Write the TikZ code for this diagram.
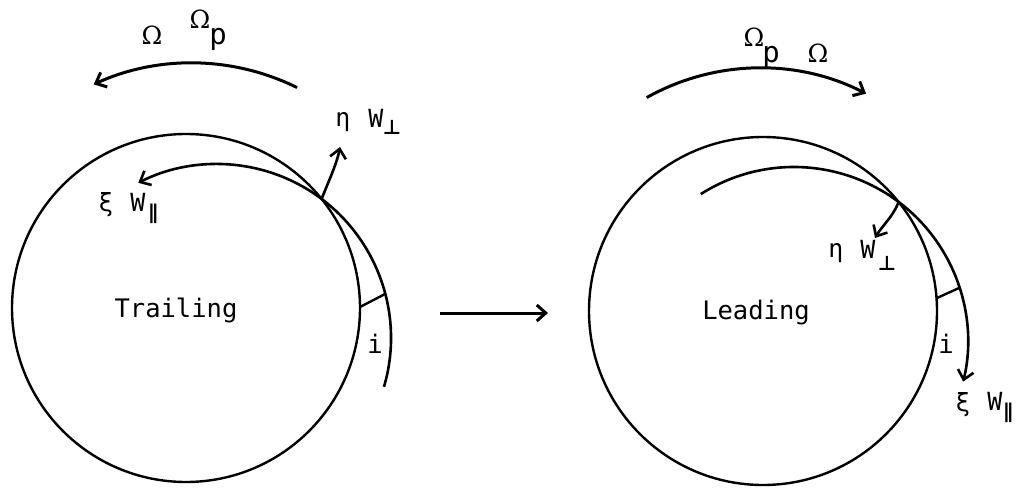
\documentclass[tikz,border=0pt]{standalone}
\usepackage{fontspec}
\newfontfamily\monof{DejaVu Sans Mono}
\newfontfamily\symf{DejaVu Sans}
\newfontfamily\seriff{DejaVu Serif}
\usetikzlibrary{arrows.meta}
\begin{document}
\begin{tikzpicture}[x=1pt,y=-1pt,
 circ/.style={line width=2.4pt},
 arr/.style={line width=2.6pt,-{Straight Barb[length=9pt,width=16pt]}},
 big/.style={font=\monof\fontsize{25.5}{30}\selectfont, inner sep=0pt, anchor=base},
 lbl/.style={font=\monof\fontsize{25}{28}\selectfont, inner sep=0pt, anchor=base},
 om/.style={font=\seriff\fontsize{25}{28}\selectfont, inner sep=0pt, anchor=base},
 pp/.style={font=\monof\fontsize{29}{32}\selectfont, inner sep=0pt, anchor=base},
 sub/.style={font=\symf\bfseries\fontsize{20}{22}\selectfont, inner sep=0pt, anchor=base},
]
\useasboundingbox (0,0) rectangle (1016,487);
% ---------- left (Trailing) ----------
\coordinate (LC1) at (186,308);
\coordinate (LC2) at (217,338);
\coordinate (LO) at (192,300);
\coordinate (LP) at (321.6,198.9);
\coordinate (LetaTip) at (340,147);
\coordinate (LiA) at (360,307);
\coordinate (LiB) at (385,294);
\draw[circ] (LC1) circle[radius=174];
\draw[arr] ([shift={(376.3:174)}]LC2) arc[start angle=376.3, end angle=243.1, radius=174];
\draw[arr,line width=3pt] ([shift={(296.3:237)}]LO) arc[start angle=296.3, end angle=245.5, radius=237];
\draw[arr] (LP) .. controls +(8,-20) and +(-3,16) .. (LetaTip);
\draw[circ] (LiA) -- (LiB);
\node[om] (LOm) at (152,45) {Ω};
\node[om] (LOmp) at (200,29) {Ω};
\node[pp] (Lp) at (218,45) {p};
\node[lbl] (Leta) at (343,126) {η};
\node[lbl] (LW1) at (376,127) {W};
\node[sub] (Lperp) at (392,134) {⊥};
\node[lbl] (Lxi) at (106,211) {ξ};
\node[lbl] (LW2) at (138,211) {W};
\node[sub] (Lpar) at (153,219) {∥};
\node[big] (trail) at (176,317) {Trailing};
\node[big] (Li) at (375,353) {i};
% ---------- middle arrow ----------
\coordinate (ma) at (440,313);
\coordinate (mb) at (548,313);
\draw[arr,line width=3pt] (ma) -- (mb);
% ---------- right (Leading) ----------
\coordinate (RC1) at (763,311);
\coordinate (RC2) at (794,341);
\coordinate (RO) at (760,300);
\coordinate (RP) at (898.6,201.9);
\coordinate (RetaTip) at (875,238);
\coordinate (RiA) at (937,298);
\coordinate (RiB) at (959,288);
\draw[circ] (RC1) circle[radius=174];
\draw[arr] ([shift={(237.6:174)}]RC2) arc[start angle=237.6, end angle=373.5, radius=174];
\draw[arr,line width=3pt] ([shift={(240.75:232)}]RO) arc[start angle=240.75, end angle=297.2, radius=232];
\draw[arr] (RP) .. controls +(-5,14) and +(7,-12) .. (RetaTip);
\draw[circ] (RiA) -- (RiB);
\node[om] (ROmp) at (754,46) {Ω};
\node[pp] (Rp) at (771,63) {p};
\node[om] (ROm) at (818,63) {Ω};
\node[lbl] (Reta) at (836,257) {η};
\node[lbl] (RW1) at (868,258) {W};
\node[sub] (Rperp) at (887,270) {⊥};
\node[lbl] (Rxi) at (963,411) {ξ};
\node[lbl] (RW2) at (995,410) {W};
\node[sub] (Rpar) at (1008,418) {∥};
\node[big] (lead) at (756,319) {Leading};
\node[big] (Ri) at (946,353) {i};
\end{tikzpicture}
\end{document}
